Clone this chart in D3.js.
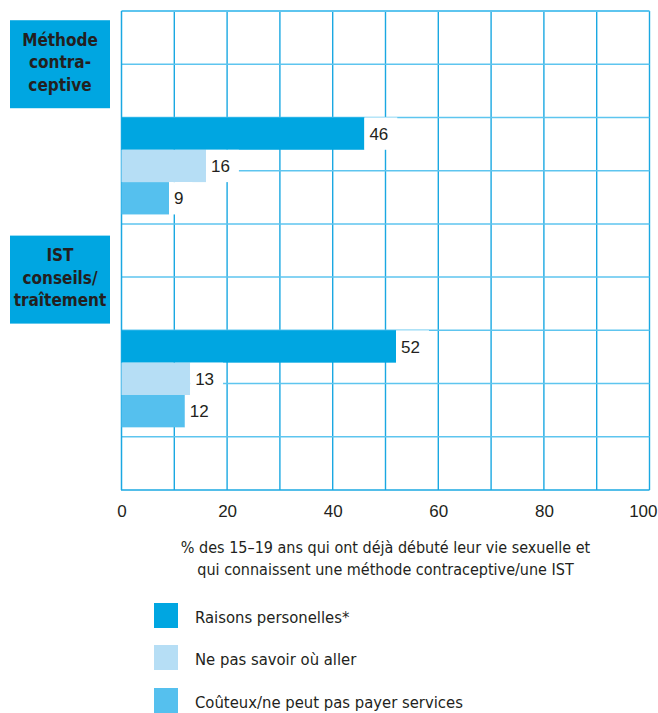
<!DOCTYPE html>
<html>
<head>
<meta charset="utf-8">
<script src="https://cdn.jsdelivr.net/npm/d3@7"></script>
<style>
  html, body { margin: 0; padding: 0; background: #fff; }
  svg { display: block; }
  .txt { font-family: "DejaVu Sans Condensed", "DejaVu Sans", sans-serif; font-stretch: condensed; fill: #231f20; }
  .num { font-family: "Liberation Sans Narrow", "Arial Narrow", sans-serif; fill: #231f20; }
</style>
</head>
<body>
<svg id="chart" width="658" height="713"></svg>
<script>
// ---- data ----
const categories = ["Méthode contraceptive", "IST conseils/traîtement"];
const categoryLabelLines = [["Méthode", "contra-", "ceptive"], ["IST", "conseils/", "traîtement"]];
const seriesNames = ["Raisons personelles*", "Ne pas savoir où aller", "Coûteux/ne peut pas payer services"];
const raisonsPersonelles = [46, 52];
const nePasSavoir = [16, 13];
const couteux = [9, 12];
const xTicks = [0, 20, 40, 60, 80, 100];
const axisTitleLines = ["% des 15–19 ans qui ont déjà débuté leur vie sexuelle et",
                        "qui connaissent une méthode contraceptive/une IST"];

const seriesValues = [raisonsPersonelles, nePasSavoir, couteux];
const colors = ["#00a6e1", "#b6def5", "#55c0ee"];

// ---- layout ----
const svg = d3.select("#chart");
const x = d3.scaleLinear().domain([0, 100]).range([121.5, 649.5]);
const nRows = 9;
const yRow = d3.scaleLinear().domain([0, nRows]).range([11, 490]);

// grid
const grid = svg.append("g");
grid.selectAll("line.v").data(d3.range(10, 101, 10)).join("line")
  .attr("class", "v")
  .attr("x1", d => x(d)).attr("x2", d => x(d))
  .attr("y1", yRow(0)).attr("y2", yRow(nRows))
  .attr("stroke", "#1aa8e2").attr("stroke-width", 1.4);
grid.selectAll("line.h").data(d3.range(0, nRows)).join("line")
  .attr("class", "h")
  .attr("x1", x(0)).attr("x2", x(100))
  .attr("y1", d => yRow(d)).attr("y2", d => yRow(d))
  .attr("stroke", "#5ec5ef").attr("stroke-width", d => d === 0 ? 2 : 1.5);
grid.append("line").attr("x1", x(0)).attr("x2", x(0)).attr("y1", yRow(0)).attr("y2", yRow(nRows))
  .attr("stroke", "#1aa8e2").attr("stroke-width", 1.5);
grid.append("line").attr("x1", x(0) - 0.5).attr("x2", x(100)).attr("y1", yRow(nRows)).attr("y2", yRow(nRows))
  .attr("stroke", "#1aa8e2").attr("stroke-width", 1.5);

// category groups
categories.forEach((cat, i) => {
  const labelRow = 1 + 4 * i;
  const barRow = 2 + 4 * i;
  const y0 = yRow(barRow);
  const yb = d3.scaleBand().domain(seriesNames).range([y0, y0 + 97]).padding(0);

  const cy = yRow(labelRow) + (i === 0 ? 0 : 2.5);
  svg.append("rect").attr("x", 10).attr("y", cy - 44).attr("width", 100).attr("height", 88)
    .attr("fill", "#00a6e1");
  svg.append("text").attr("class", "txt")
    .attr("text-anchor", "middle").attr("font-weight", "bold").attr("font-size", 17)
    .selectAll("tspan").data(categoryLabelLines[i]).join("tspan")
    .attr("x", 60).attr("y", (d, k) => cy + 4 + (k - 1) * 22.5).text(d => d);

  const g = svg.append("g");
  seriesNames.forEach((s, k) => {
    const v = seriesValues[k][i];
    const yy = yb(s);
    g.append("rect").attr("x", x(0)).attr("y", yy).attr("width", x(v) - x(0))
      .attr("height", yb.bandwidth()).attr("fill", colors[k]);
    const bg = g.append("rect").attr("x", x(v)).attr("y", yy)
      .attr("height", yb.bandwidth()).attr("fill", "#fff");
    const t = g.append("text").attr("class", "num").attr("font-size", 17)
      .attr("x", x(v) + 5).attr("y", yy + yb.bandwidth() / 2 + 6)
      .text(v);
    bg.attr("width", 5 + t.node().getComputedTextLength() + 9);
  });
});

// x axis
const axis = d3.axisBottom(x).tickValues(xTicks).tickSize(0).tickPadding(0).tickFormat(d3.format("d"));
const ag = svg.append("g").attr("transform", `translate(0, ${yRow(nRows)})`).call(axis);
ag.select(".domain").remove();
ag.selectAll(".tick line").remove();
ag.selectAll("text").attr("class", "num").attr("font-size", 17)
  .attr("fill", "#231f20").attr("dy", null).attr("y", 27);
ag.selectAll(".tick text").filter(d => d === 100)
  .attr("text-anchor", "end").attr("x", 7.5);

// axis title
svg.append("text").attr("class", "txt").attr("text-anchor", "middle").attr("font-size", 16)
  .selectAll("tspan").data(axisTitleLines).join("tspan")
  .attr("x", (x(0) + x(100)) / 2).attr("y", (d, k) => 553 + k * 21.5).text(d => d);

// legend
const legendTop = [603, 645, 688];
const lg = svg.append("g");
seriesNames.forEach((s, k) => {
  lg.append("rect").attr("x", 154).attr("y", legendTop[k]).attr("width", 24).attr("height", 25)
    .attr("fill", colors[k]);
  lg.append("text").attr("class", "txt").attr("font-size", 16.5)
    .attr("x", 195).attr("y", legendTop[k] + 20).text(s);
});
</script>
</body>
</html>
